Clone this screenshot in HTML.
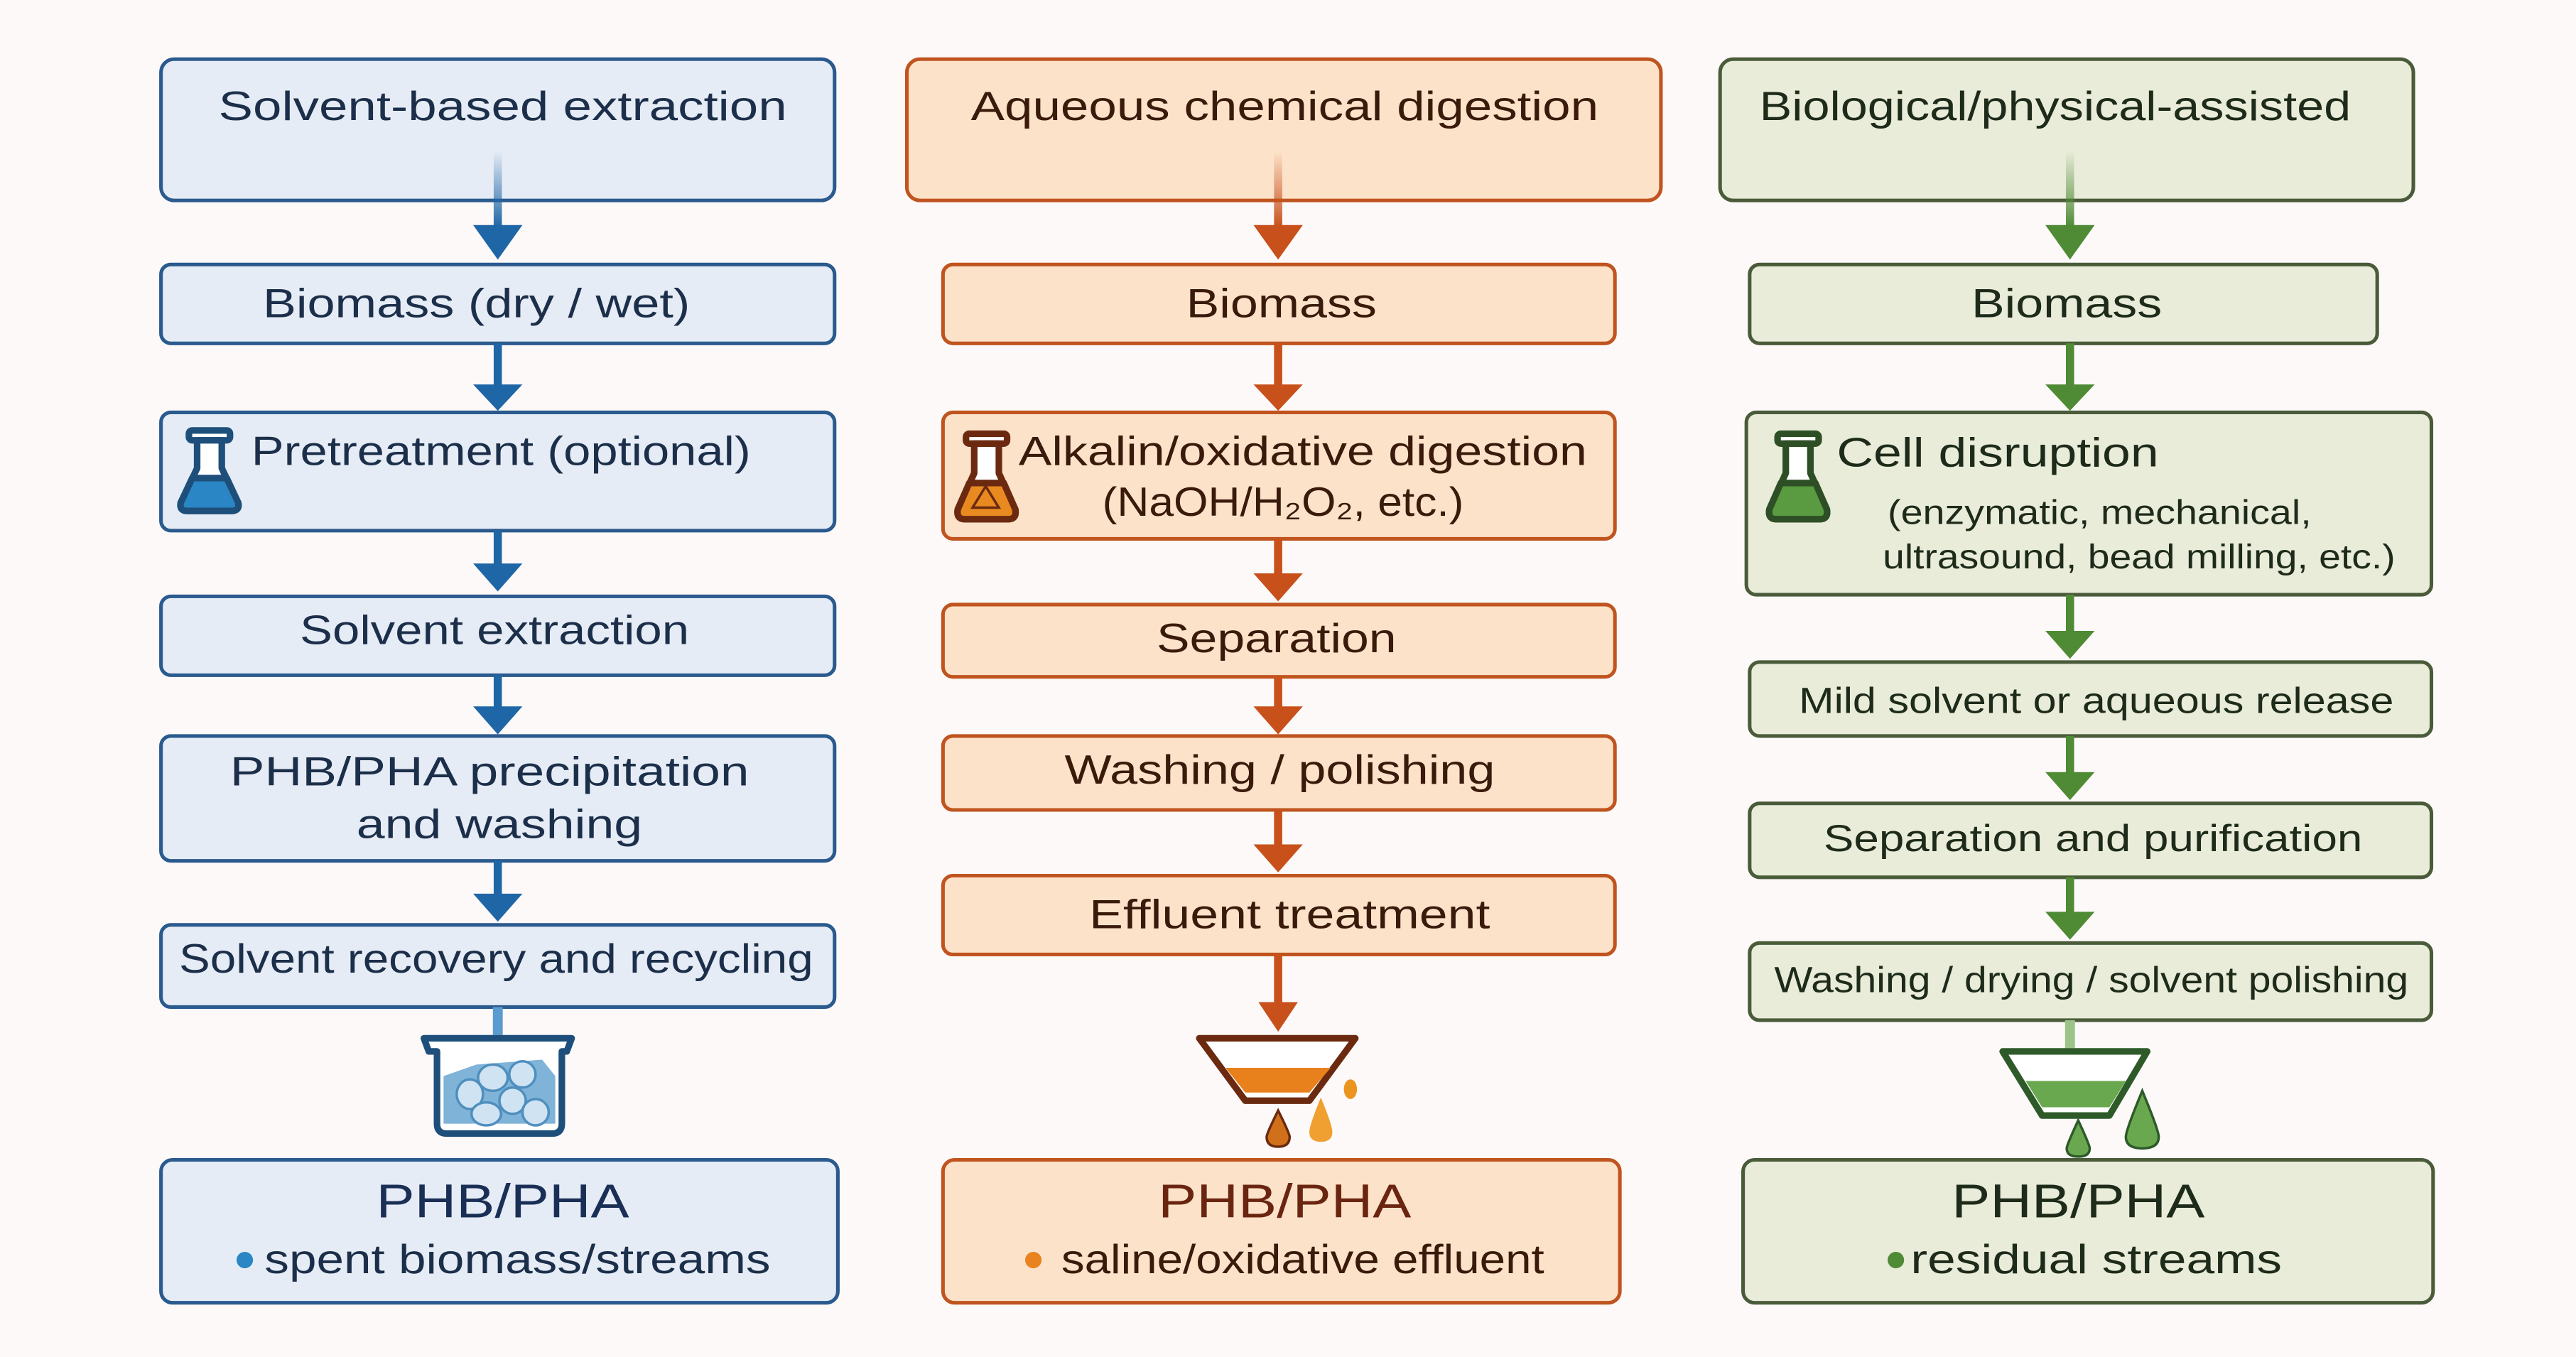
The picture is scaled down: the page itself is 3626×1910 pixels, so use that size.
<!DOCTYPE html>
<html><head><meta charset="utf-8"><style>
html,body{margin:0;padding:0;background:#fdf9f9;}
svg{display:block}
text{font-family:"Liberation Sans",sans-serif;}
</style></head><body>
<svg width="3626" height="1910" viewBox="0 0 1568 826" preserveAspectRatio="none" xmlns="http://www.w3.org/2000/svg">
<defs>
<linearGradient id="gb" x1="0" y1="0" x2="0" y2="1"><stop offset="0" stop-color="#1f66a6" stop-opacity="0"/><stop offset="1" stop-color="#1f66a6"/></linearGradient>
<linearGradient id="go" x1="0" y1="0" x2="0" y2="1"><stop offset="0" stop-color="#c8501a" stop-opacity="0"/><stop offset="1" stop-color="#c8501a"/></linearGradient>
<linearGradient id="gg" x1="0" y1="0" x2="0" y2="1"><stop offset="0" stop-color="#4f8a35" stop-opacity="0"/><stop offset="1" stop-color="#4f8a35"/></linearGradient>
</defs>
<rect width="1568" height="826" fill="#fdf9f9"/>

<!-- ========== BLUE COLUMN ========== -->
<g fill="#e6ecf5" stroke="#2a5a8e" stroke-width="2.2">
<rect x="98" y="36" width="410" height="86" rx="8"/>
<rect x="98" y="161" width="410" height="48" rx="6"/>
<rect x="98" y="251" width="410" height="72" rx="6"/>
<rect x="98" y="363" width="410" height="48" rx="6"/>
<rect x="98" y="448" width="410" height="76" rx="6"/>
<rect x="98" y="563" width="410" height="50" rx="6"/>
<rect x="98" y="706" width="412" height="87" rx="7"/>
</g>
<g fill="#1c2f4a" font-size="25" text-anchor="middle">
<text x="306" y="73" textLength="346" lengthAdjust="spacingAndGlyphs">Solvent-based extraction</text>
<text x="290" y="193" textLength="260" lengthAdjust="spacingAndGlyphs">Biomass (dry / wet)</text>
<text x="305" y="283" textLength="304" lengthAdjust="spacingAndGlyphs">Pretreatment (optional)</text>
<text x="301" y="392" textLength="237" lengthAdjust="spacingAndGlyphs">Solvent extraction</text>
<text x="298" y="478" textLength="316" lengthAdjust="spacingAndGlyphs">PHB/PHA precipitation</text>
<text x="304" y="510" textLength="174" lengthAdjust="spacingAndGlyphs">and washing</text>
<text x="302" y="592" textLength="386" lengthAdjust="spacingAndGlyphs">Solvent recovery and recycling</text>
<text x="306" y="741" font-size="29" fill="#1a2f55" textLength="154" lengthAdjust="spacingAndGlyphs">PHB/PHA</text>
<text x="315" y="775" textLength="308" lengthAdjust="spacingAndGlyphs">spent biomass/streams</text>
</g>
<circle cx="149" cy="767" r="5" fill="#2a86c4"/>
<g stroke="#1f66a6" stroke-width="5">
<line x1="303" y1="209" x2="303" y2="236"/>
<line x1="303" y1="323" x2="303" y2="346"/>
<line x1="303" y1="411" x2="303" y2="432"/>
<line x1="303" y1="524" x2="303" y2="546"/>
</g>
<rect x="300.5" y="92" width="5" height="46" fill="url(#gb)"/>
<g fill="#1f66a6">
<polygon points="288,137 318,137 303,158"/>
<polygon points="288,234 318,234 303,250"/>
<polygon points="288,343 318,343 303,360"/>
<polygon points="288,430 318,430 303,447"/>
<polygon points="288,544 318,544 303,561"/>
</g>
<rect x="300" y="613" width="6" height="17" fill="#5a9bd0"/>
<g stroke="#1d4f7a" stroke-width="4" stroke-linejoin="round">
<rect x="115" y="262" width="25" height="6" rx="2" fill="#fff"/>
<path d="M120,268 L120,285 L110,306 Q109,311 114,311 L141,311 Q146,311 145,306 L135,285 L135,268 Z" fill="#fff"/>
<path d="M117,291 L138,291 L145,306 Q146,311 141,311 L114,311 Q109,311 110,306 Z" fill="#2a86c4"/>
</g>
<path d="M258,632 L348,632 L345,640 L342,640 L342,684 Q342,690 336,690 L272,690 Q266,690 266,684 L266,640 L261,640 Z" fill="#fff" stroke="#1d4f7a" stroke-width="4" stroke-linejoin="round"/>
<path d="M270,655 L290,648 L330,645 L338,655 L338,684 L270,684 Z" fill="#7fb3d8"/>
<g fill="#cfe3f2" stroke="#4f8fbe" stroke-width="1.5">
<ellipse cx="286" cy="666" rx="8" ry="9"/><ellipse cx="300" cy="656" rx="9" ry="8"/><ellipse cx="318" cy="654" rx="8" ry="8"/>
<ellipse cx="312" cy="670" rx="8" ry="8"/><ellipse cx="296" cy="678" rx="9" ry="7"/><ellipse cx="326" cy="677" rx="8" ry="8"/>
</g>

<!-- ========== ORANGE COLUMN ========== -->
<g fill="#fde2ca" stroke="#c0541f" stroke-width="2.2">
<rect x="552" y="36" width="459" height="86" rx="8"/>
<rect x="574" y="161" width="409" height="48" rx="6"/>
<rect x="574" y="251" width="409" height="77" rx="6"/>
<rect x="574" y="368" width="409" height="44" rx="6"/>
<rect x="574" y="448" width="409" height="45" rx="6"/>
<rect x="574" y="533" width="409" height="48" rx="6"/>
<rect x="574" y="706" width="412" height="87" rx="7"/>
</g>
<g fill="#3a1a0a" font-size="25" text-anchor="middle">
<text x="782" y="73" textLength="382" lengthAdjust="spacingAndGlyphs">Aqueous chemical digestion</text>
<text x="780" y="193" textLength="116" lengthAdjust="spacingAndGlyphs">Biomass</text>
<text x="793" y="283" textLength="346" lengthAdjust="spacingAndGlyphs">Alkalin/oxidative digestion</text>
<text x="781" y="314" textLength="220" lengthAdjust="spacingAndGlyphs">(NaOH/H₂O₂, etc.)</text>
<text x="777" y="397" textLength="146" lengthAdjust="spacingAndGlyphs">Separation</text>
<text x="779" y="477" textLength="262" lengthAdjust="spacingAndGlyphs">Washing / polishing</text>
<text x="785" y="565" textLength="244" lengthAdjust="spacingAndGlyphs">Effluent treatment</text>
<text x="782" y="741" font-size="29" fill="#6a2510" textLength="154" lengthAdjust="spacingAndGlyphs">PHB/PHA</text>
<text x="793" y="775" textLength="294" lengthAdjust="spacingAndGlyphs">saline/oxidative effluent</text>
</g>
<circle cx="629" cy="767" r="5" fill="#e98320"/>
<g stroke="#c8501a" stroke-width="5">
<line x1="778" y1="209" x2="778" y2="236"/>
<line x1="778" y1="328" x2="778" y2="352"/>
<line x1="778" y1="412" x2="778" y2="432"/>
<line x1="778" y1="493" x2="778" y2="516"/>
<line x1="778" y1="581" x2="778" y2="612"/>
</g>
<rect x="775.5" y="92" width="5" height="46" fill="url(#go)"/>
<g fill="#c8501a">
<polygon points="763,137 793,137 778,158"/>
<polygon points="763,234 793,234 778,250"/>
<polygon points="763,349 793,349 778,366"/>
<polygon points="763,430 793,430 778,447"/>
<polygon points="763,514 793,514 778,531"/>
<polygon points="766,610 790,610 778,628"/>
</g>
<g stroke="#6b2a10" stroke-width="4" stroke-linejoin="round">
<rect x="588" y="264" width="25" height="6" rx="2" fill="#fff"/>
<path d="M593,270 L593,288 L583,310 Q582,316 587,316 L614,316 Q619,316 618,310 L608,288 L608,270 Z" fill="#fff"/>
<path d="M590,294 L611,294 L618,310 Q619,316 614,316 L587,316 Q582,316 583,310 Z" fill="#e88a1f"/>
</g>
<polygon points="600,296 608,309 592,309" fill="none" stroke="#6b2a10" stroke-width="1.5"/>
<!-- funnel orange -->
<path d="M730,632 L825,632 L797,670 L758,670 Z" fill="#fff" stroke="#6b2a10" stroke-width="4" stroke-linejoin="round"/>
<path d="M746,650 L810,650 L797,665 L758,665 Z" fill="#e8801c"/>
<path d="M778,676 Q771,690 771,692 Q771,698 778,698 Q785,698 785,692 Q785,690 778,676 Z" fill="#d0701a" stroke="#6b2a10" stroke-width="1.5"/>
<path d="M804,668 Q797,685 797,689 Q797,695 804,695 Q811,695 811,689 Q811,685 804,668 Z" fill="#f0a030"/>
<ellipse cx="822" cy="663" rx="4" ry="6" fill="#ec9420"/>

<!-- ========== GREEN COLUMN ========== -->
<g fill="#e8ecd9" stroke="#4a5b3a" stroke-width="2.2">
<rect x="1047" y="36" width="422" height="86" rx="8"/>
<rect x="1065" y="161" width="382" height="48" rx="6"/>
<rect x="1063" y="251" width="417" height="111" rx="6"/>
<rect x="1065" y="403" width="415" height="45" rx="6"/>
<rect x="1065" y="489" width="415" height="45" rx="6"/>
<rect x="1065" y="574" width="415" height="47" rx="6"/>
<rect x="1061" y="706" width="420" height="87" rx="7"/>
</g>
<g fill="#1e2a1a" font-size="25" text-anchor="middle">
<text x="1251" y="73" textLength="360" lengthAdjust="spacingAndGlyphs">Biological/physical-assisted</text>
<text x="1258" y="193" textLength="116" lengthAdjust="spacingAndGlyphs">Biomass</text>
<text x="1216" y="284" textLength="196" lengthAdjust="spacingAndGlyphs">Cell disruption</text>
<text x="1278" y="319" font-size="21" textLength="258" lengthAdjust="spacingAndGlyphs">(enzymatic, mechanical,</text>
<text x="1302" y="346" font-size="21" textLength="312" lengthAdjust="spacingAndGlyphs">ultrasound, bead milling, etc.)</text>
<text x="1276" y="434" font-size="22" textLength="362" lengthAdjust="spacingAndGlyphs">Mild solvent or aqueous release</text>
<text x="1274" y="518" font-size="23" textLength="328" lengthAdjust="spacingAndGlyphs">Separation and purification</text>
<text x="1273" y="604" font-size="22" textLength="386" lengthAdjust="spacingAndGlyphs">Washing / drying / solvent polishing</text>
<text x="1265" y="741" font-size="29" fill="#1e2a1a" textLength="154" lengthAdjust="spacingAndGlyphs">PHB/PHA</text>
<text x="1276" y="775" textLength="226" lengthAdjust="spacingAndGlyphs">residual streams</text>
</g>
<circle cx="1154" cy="767" r="5" fill="#4f8a35"/>
<g stroke="#4f8a35" stroke-width="5">
<line x1="1260" y1="209" x2="1260" y2="236"/>
<line x1="1260" y1="362" x2="1260" y2="386"/>
<line x1="1260" y1="448" x2="1260" y2="472"/>
<line x1="1260" y1="534" x2="1260" y2="557"/>
</g>
<rect x="1257.5" y="92" width="5" height="46" fill="url(#gg)"/>
<g fill="#4f8a35">
<polygon points="1245,137 1275,137 1260,158"/>
<polygon points="1245,234 1275,234 1260,250"/>
<polygon points="1245,384 1275,384 1260,401"/>
<polygon points="1245,470 1275,470 1260,487"/>
<polygon points="1245,555 1275,555 1260,572"/>
</g>
<rect x="1257" y="621" width="6" height="17" fill="#9cc48a"/>
<g stroke="#2e4f26" stroke-width="4" stroke-linejoin="round">
<rect x="1082" y="264" width="25" height="6" rx="2" fill="#fff"/>
<path d="M1087,270 L1087,288 L1077,310 Q1076,316 1081,316 L1108,316 Q1113,316 1112,310 L1102,288 L1102,270 Z" fill="#fff"/>
<path d="M1084,294 L1105,294 L1112,310 Q1113,316 1108,316 L1081,316 Q1076,316 1077,310 Z" fill="#5a9a40"/>
</g>
<!-- funnel green -->
<path d="M1219,640 L1307,640 L1284,679 L1243,679 Z" fill="#fff" stroke="#2e5a2a" stroke-width="4" stroke-linejoin="round"/>
<path d="M1233,658 L1294,658 L1284,674 L1243,674 Z" fill="#6aa84f"/>
<path d="M1265,682 Q1258,697 1258,699 Q1258,704 1265,704 Q1272,704 1272,699 Q1272,697 1265,682 Z" fill="#6aa84f" stroke="#2e5a2a" stroke-width="1.5"/>
<path d="M1304,664 Q1294,688 1294,692 Q1294,699 1304,699 Q1314,699 1314,692 Q1314,688 1304,664 Z" fill="#6aa84f" stroke="#2e5a2a" stroke-width="1.5"/>
</svg>
</body></html>
